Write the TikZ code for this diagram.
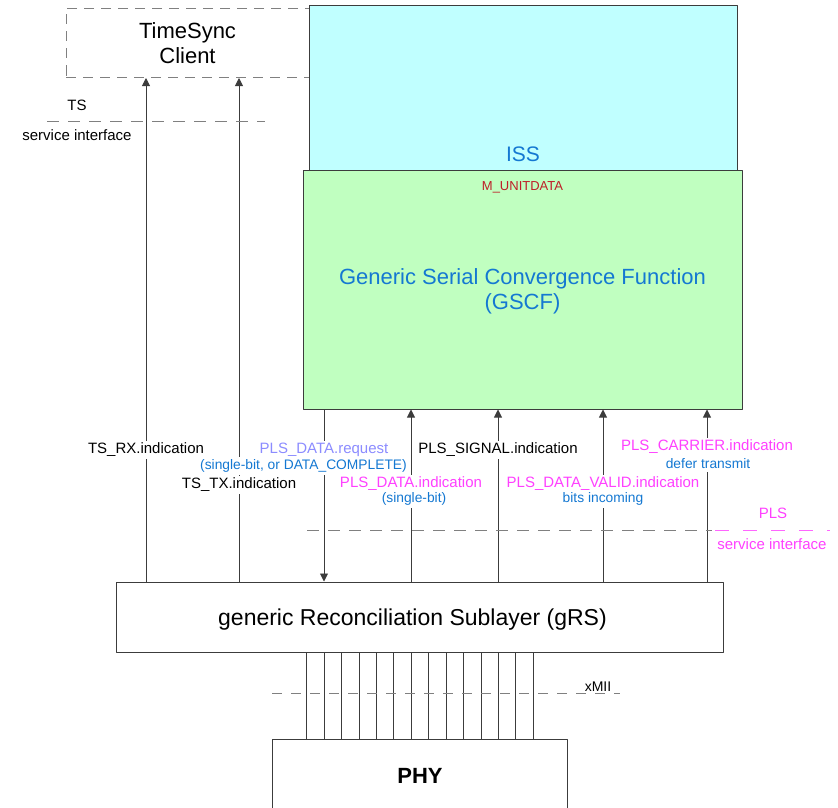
\documentclass[tikz,border=0pt]{standalone}
\usepackage{fontspec}
\setmainfont{Liberation Sans}
\usetikzlibrary{arrows.meta,positioning,backgrounds}
\definecolor{issfill}{RGB}{192,255,255}
\definecolor{gscffill}{RGB}{192,255,192}
\definecolor{txtblue}{RGB}{20,120,210}
\definecolor{reqblue}{RGB}{140,140,255}
\definecolor{plspink}{RGB}{255,64,255}
\definecolor{unitred}{RGB}{190,30,40}
\definecolor{edge}{RGB}{60,60,60}
\newcommand{\sz}[2]{\fontsize{#1}{#2}\selectfont}
\begin{document}
\begin{tikzpicture}[x=1pt, y=-1pt, line join=round, >={Triangle[width=8pt,length=8pt]},
	layer/.style={draw=edge, line width=1pt, inner sep=0pt, align=center},
	sig/.style={draw=edge, line width=0.9pt, ->},
	wire/.style={draw=edge, line width=0.8pt},
	lbl/.style={fill=white, inner sep=1pt, inner ysep=2pt, font=\sz{15}{17}},
	note/.style={fill=white, inner sep=1pt, inner ysep=2.5pt, font=\sz{13.8}{16}, text=txtblue},
	iface/.style={draw=gray, line width=1pt, dash pattern=on 12pt off 9pt}]
	\useasboundingbox (0,0) rectangle (838,808);
	\clip (0,0) rectangle (838,808);
	% layers
	\node[layer, draw=gray, dash pattern=on 10pt off 7pt, minimum width=243pt, minimum height=69pt, font=\sz{22}{25}] (tsc) at (187.5,43) {TimeSync\\Client};
	\node[layer, fill=issfill, minimum width=428pt, minimum height=164pt] (iss) at (523,88) {};
	\node[anchor=base, text=txtblue, font=\sz{21}{25}] (isslbl) at ([yshift=9pt]iss.south) {ISS};
	\node[layer, fill=gscffill, minimum width=439pt, minimum height=239pt] (gscf) at (522.5,289.5) {};
	\node[text=txtblue, font=\sz{22}{25}, align=center] (gscflbl) at ([yshift=-2pt]gscf.center) {Generic Serial Convergence Function\\(GSCF)};
	\node[below=12pt of gscf.north, text=unitred, font=\sz{13}{15}, inner sep=0pt] (unit) {M\_UNITDATA};
	\node[layer, minimum width=607pt, minimum height=70pt] (grs) at (419.5,617) {};
	\node[font=\sz{23}{26}] (grslbl) at ([xshift=-7pt,yshift=-3pt]grs.center) {generic Reconciliation Sublayer (gRS)};
	\node[layer, minimum width=295pt, minimum height=73pt, font=\bfseries\sz{22}{26}] (phy) at (420,775.5) {PHY};
	% primitives
	\node[lbl] (rx) at (146,450) {TS\_RX.indication};
	\node[lbl] (tx) at (239,485) {TS\_TX.indication};
	\node[lbl, text=reqblue] (req) at (324,450) {PLS\_DATA.request};
	\node[note] (reqnote) at (303.5,466) {(single-bit, or DATA\_COMPLETE)};
	\node[lbl] (sgl) at (498,450) {PLS\_SIGNAL.indication};
	\node[lbl, text=plspink] (dat) at (411,484) {PLS\_DATA.indication};
	\node[note] (datnote) at (414,499) {(single-bit)};
	\node[lbl, text=plspink] (vld) at (603,484) {PLS\_DATA\_VALID.indication};
	\node[note] (vldnote) at (603,499) {bits incoming};
	\node[lbl, text=plspink] (car) at (707,447) {PLS\_CARRIER.indication};
	\node[note] (carnote) at (708,464) {defer transmit};
	\begin{scope}[on background layer]
		\foreach \n in {rx,tx}
			\draw[sig] (grs.north -| \n) -- (tsc.south -| \n);
		\draw[sig] (gscf.south -| req) -- (grs.north -| req);
		\foreach \n in {dat,sgl,vld,car}
			\draw[sig] (grs.north -| \n) -- (gscf.south -| \n);
		\foreach \i in {0,...,13} {
			\coordinate (m\i) at ({306.7+17.43*\i},0);
			\draw[wire] (grs.south -| m\i) -- (phy.north -| m\i);
		}
	\end{scope}
	% service interfaces
	\draw[iface] (47,121) -- (265,121);
	\node[font=\sz{15}{17}] (tsif) at (77,105) {TS};
	\node[font=\sz{15}{17}] (tssvc) at (77,135) {service interface};
	\draw[iface] (307,530) -- (712,530);
	\draw[iface, draw=plspink!80, line width=0.9pt, dash pattern=on 14pt off 14pt] (715,530) -- (830,530);
	\node[font=\sz{15}{17}, text=plspink] (pls) at (773,513) {PLS};
	\node[font=\sz{15}{17}, text=plspink] (plssvc) at (772,544) {service interface};
	\draw[iface, dash pattern=on 10pt off 9pt] (272,693) -- (620,693);
	\node[font=\sz{14}{16}] (xmii) at (598,687) {xMII};
\end{tikzpicture}
\end{document}
